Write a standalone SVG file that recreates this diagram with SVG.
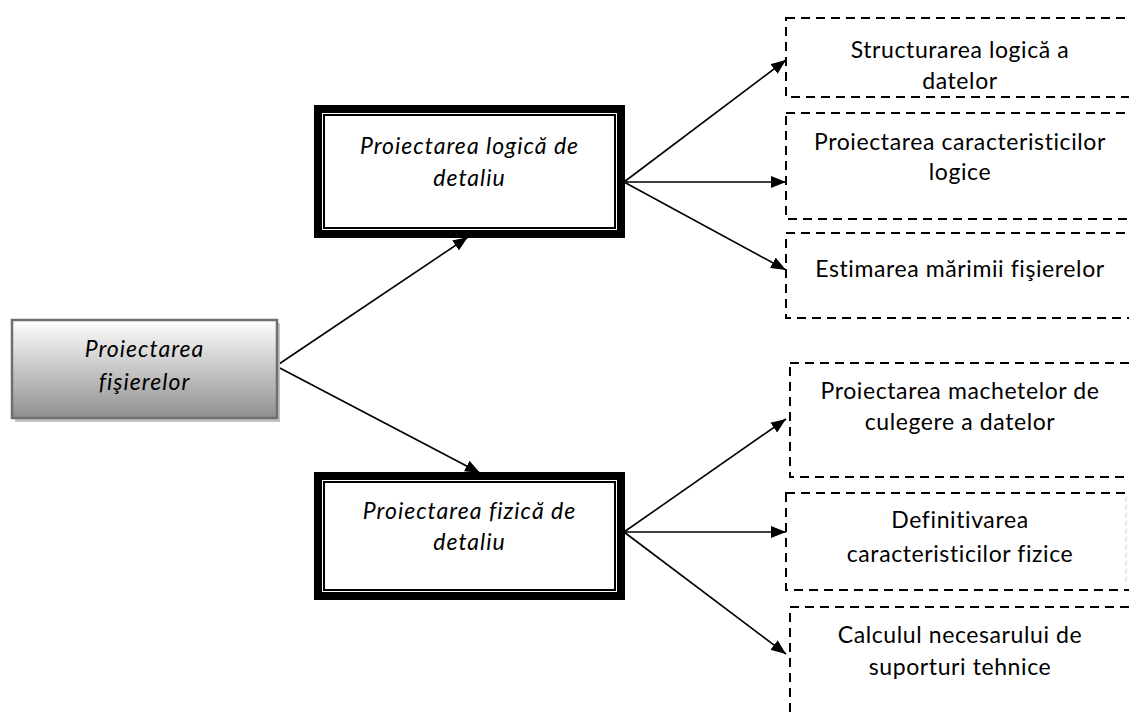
<svg xmlns="http://www.w3.org/2000/svg" width="1129" height="713" viewBox="0 0 1129 713">
<style>
.t{font-family:Lato,"Open Sans","Liberation Sans",sans-serif;font-size:23px;letter-spacing:0.6px;fill:#000;text-anchor:middle}
.i{font-style:italic;letter-spacing:1px}
.dash{fill:none;stroke:#000;stroke-width:2;stroke-dasharray:9 6}
.thick{fill:#fff;stroke:#000;stroke-width:8}
.thin{fill:none;stroke:#000;stroke-width:2}
.conn{stroke:#000;stroke-width:1.6;fill:none;marker-end:url(#ah)}
</style>
<defs>
<linearGradient id="g" x1="0" y1="0" x2="0" y2="1">
<stop offset="0" stop-color="#ffffff"/>
<stop offset="1" stop-color="#8f8f8f"/>
</linearGradient>
<marker id="ah" markerUnits="userSpaceOnUse" markerWidth="16" markerHeight="12" refX="15" refY="6" orient="auto">
<path d="M0,0 L15,6 L0,12 Z" fill="#000"/>
</marker>
</defs>
<rect width="1129" height="713" fill="#fff"/>

<g id="connectors">
<line class="conn" x1="276" y1="366" x2="468" y2="237"/>
<line class="conn" x1="276" y1="366" x2="480" y2="473"/>
<line class="conn" x1="624" y1="182" x2="786" y2="60"/>
<line class="conn" x1="624" y1="182" x2="786" y2="182"/>
<line class="conn" x1="624" y1="182" x2="786" y2="270"/>
<line class="conn" x1="624" y1="532" x2="786" y2="419"/>
<line class="conn" x1="624" y1="532" x2="786" y2="532"/>
<line class="conn" x1="624" y1="532" x2="786" y2="654"/>
</g>

<g id="n-main">
<rect x="15" y="323" width="265" height="99" fill="#c4c4c4"/>
<rect x="12" y="320" width="265" height="98" fill="url(#g)" stroke="#6f6f6f" stroke-width="2.5"/>
<text class="t i" x="144.5" y="357">Proiectarea</text>
<text class="t i" x="144.5" y="390">fişierelor</text>
</g>

<g id="n-logic">
<rect class="thick" x="318" y="109" width="303" height="125"/>
<rect class="thin" x="324" y="115" width="291" height="113"/>
<text class="t i" x="469.5" y="154">Proiectarea logică de</text>
<text class="t i" x="469.5" y="186">detaliu</text>
</g>

<g id="n-physical">
<rect class="thick" x="318" y="476" width="303" height="120"/>
<rect class="thin" x="324" y="482" width="291" height="108"/>
<text class="t i" x="469.5" y="519">Proiectarea fizică de</text>
<text class="t i" x="469.5" y="550">detaliu</text>
</g>

<g id="n-struct">
<rect class="dash" x="786" y="18" width="350" height="79"/>
<text class="t" x="960" y="58">Structurarea logică a</text>
<text class="t" x="960" y="89">datelor</text>
</g>

<g id="n-caract-log">
<rect class="dash" x="786" y="113" width="350" height="106"/>
<text class="t" x="960" y="150">Proiectarea caracteristicilor</text>
<text class="t" x="960" y="180">logice</text>
</g>

<g id="n-estim">
<rect class="dash" x="786" y="233" width="350" height="85"/>
<text class="t" x="960" y="277">Estimarea mărimii fişierelor</text>
</g>

<g id="n-machete">
<rect class="dash" x="790" y="363" width="350" height="114"/>
<text class="t" x="960" y="399">Proiectarea machetelor de</text>
<text class="t" x="960" y="430">culegere a datelor</text>
</g>

<g id="n-definit">
<rect class="dash" x="786" y="493" width="350" height="97"/>
<line x1="1126" y1="497" x2="1126" y2="586" stroke="#ccc" stroke-width="1" stroke-dasharray="5 3"/>
<text class="t" x="960" y="528">Definitivarea</text>
<text class="t" x="960" y="562">caracteristicilor fizice</text>
</g>

<g id="n-calcul">
<rect class="dash" x="790" y="607" width="350" height="130"/>
<text class="t" x="960" y="643">Calculul necesarului de</text>
<text class="t" x="960" y="675">suporturi tehnice</text>
</g>
</svg>
